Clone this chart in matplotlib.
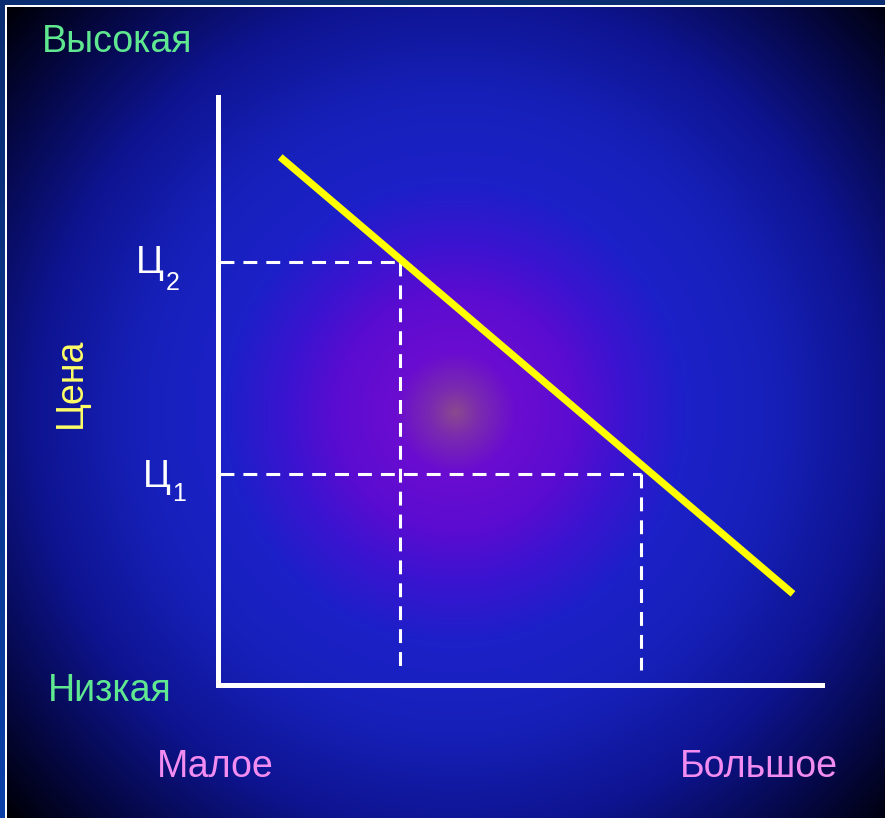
import numpy as np
import matplotlib.pyplot as plt
from matplotlib.colors import to_rgb

plt.rcParams['font.family'] = ['Liberation Sans', 'DejaVu Sans']
plt.rcParams['lines.scale_dashes'] = False

W, H = 885, 818

# demand line end points, axis units 0..100
demand_q = [10.3, 95.2]
demand_p = [89.8, 15.5]

# two price levels and the quantity bought at each
price_subs = ['2', '1']
prices = [71.9, 35.9]
quantities = [30.1, 70.0]
q_floor = 2.6

level_labels = ['Высокая', 'Низкая']
amount_labels = ['Малое', 'Большое']
price_title = 'Цена'


def radial_background(w, h, cx, cy):
    """slide-style radial gradient, purple in the middle fading to black"""
    yy, xx = np.mgrid[0:h, 0:w]
    d = np.hypot(xx - cx, yy - cy)
    stops = [0, 25, 60, 120, 170, 230, 320, 420, 520, 600]
    cols = ['#8a4a8e', '#7a2ab0', '#6a0cd0', '#5a0cd0', '#3a14d0',
            '#1c20c8', '#1620b8', '#0e1490', '#050845', '#000008']
    rgb = np.array([to_rgb(c) for c in cols])
    img = np.zeros((h, w, 3))
    for k in range(3):
        img[..., k] = np.interp(d, stops, rgb[:, k])
    # frame: blue strip plus thin white line along top and left
    top = np.array(to_rgb('#0a2c70'))
    bot = np.array(to_rgb('#0b40a8'))
    t = np.linspace(0, 1, h)[:, None]
    img[:, :5] = top + (bot - top) * t[:, :, None]
    img[:5, :] = top
    img[5:7, 5:] = 1.0
    img[5:, 5:7] = 1.0
    return img


fig = plt.figure(figsize=(W / 100, H / 100), dpi=100)

bg = fig.add_axes([0, 0, 1, 1])
bg.imshow(radial_background(W, H, 455, 412), extent=(0, W, H, 0),
          aspect='auto', interpolation='bilinear')
bg.set_xlim(0, W)
bg.set_ylim(H, 0)
bg.axis('off')

green = '#5fe890'
pink = '#f28cf0'
bg.text(42, 52, level_labels[0], fontsize=27, color=green, ha='left', va='baseline')
bg.text(48, 701, level_labels[1], fontsize=27, color=green, ha='left', va='baseline')
bg.text(157, 777, amount_labels[0], fontsize=27, color=pink, ha='left', va='baseline')
bg.text(680, 777, amount_labels[1], fontsize=27, color=pink, ha='left', va='baseline')
bg.text(81, 428, price_title, fontsize=27, color='#ffff66', rotation=90,
        rotation_mode='anchor', ha='left', va='baseline')

ax = fig.add_axes([218 / W, (H - 685) / H, 604 / W, 588 / H])
ax.set_xlim(0, 100)
ax.set_ylim(0, 100)
ax.patch.set_alpha(0)
for side in ['top', 'right']:
    ax.spines[side].set_visible(False)
for side in ['left', 'bottom']:
    ax.spines[side].set_color('white')
    ax.spines[side].set_linewidth(3.6)
ax.set_xticks([])
ax.set_yticks([])

# guide lines from each price to the demand line and down to the axis
for p, q in zip(prices, quantities):
    ax.plot([0.4, q], [p, p], color='white', lw=2.2, dashes=(10, 6.5), clip_on=False)
    ax.plot([q, q], [p, q_floor], color='white', lw=2.2, dashes=(10, 6.5), clip_on=False)

ax.plot(demand_q, demand_p, color='#ffff00', lw=5.2, solid_capstyle='butt', clip_on=False)

# price labels Ц with subscripts
offsets = [(-54, -11, -52, -28), (-47, -13, -46, -27)]
for p, sub, (dx, dy, sx, sy) in zip(prices, price_subs, offsets):
    ax.annotate('Ц', xy=(0, p), xytext=(dx, dy), textcoords='offset pixels',
                fontsize=27, color='white', ha='right', va='baseline')
    ax.annotate(sub, xy=(0, p), xytext=(sx, sy), textcoords='offset pixels',
                fontsize=18, color='white', ha='left', va='baseline')

fig.savefig('out.png', dpi=100)
